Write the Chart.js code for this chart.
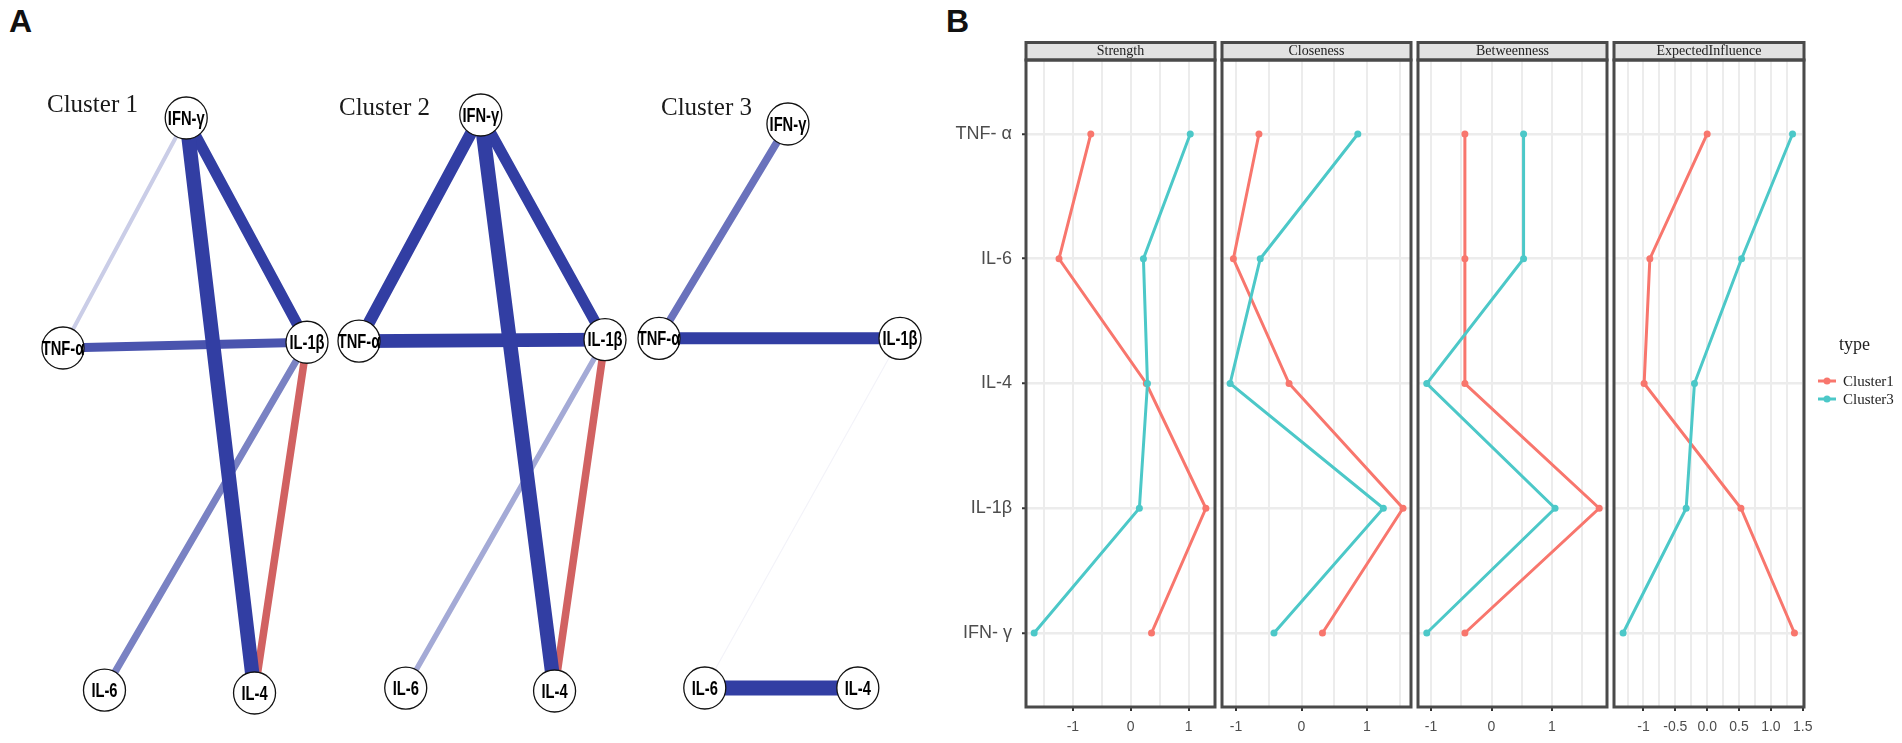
<!DOCTYPE html>
<html>
<head>
<meta charset="utf-8">
<script src="https://cdn.jsdelivr.net/npm/chart.js@4.4.1/dist/chart.umd.min.js"></script>
<style>
  html, body { margin: 0; padding: 0; background: #fff; }
  body { width: 1902px; height: 743px; position: relative; overflow: hidden; }
  canvas { position: absolute; }
  .tag { position: absolute; font: bold 32px "Liberation Sans", Arial, sans-serif; line-height: 32px; color: #111; }
</style>
</head>
<body>
<div class="tag" style="left:9px;top:5px">A</div>
<div class="tag" style="left:946px;top:5px">B</div>
<canvas id="net1"></canvas>
<canvas id="net2"></canvas>
<canvas id="net3"></canvas>
<canvas id="f0"></canvas>
<canvas id="f1"></canvas>
<canvas id="f2"></canvas>
<canvas id="f3"></canvas>
<script>
// ---------- A: networks ----------
const nodeNames = ['IFN-γ', 'TNF-α', 'IL-1β', 'IL-6', 'IL-4'];
// layout coords per cluster, [-1, 1] like qgraph
const cluster1Layout = [[0.01, 1], [-1, 0.20], [1, 0.22], [-0.66, -0.99], [0.57, -1]];
const cluster2Layout = [[-0.01, 1], [-1, 0.215], [1, 0.22], [-0.62, -0.99], [0.59, -1]];
const cluster3Layout = [[0.07, 1], [-1, 0.24], [1, 0.24], [-0.62, -1], [0.65, -1]];
// edges: [from, to, weight]
const cluster1Edges = [[0, 1, 0.20], [0, 4, 0.72], [0, 2, 0.55], [1, 2, 0.44], [2, 3, 0.35], [2, 4, -0.38]];
const cluster2Edges = [[0, 1, 0.60], [0, 4, 0.72], [0, 2, 0.55], [1, 2, 0.68], [2, 3, 0.27], [2, 4, -0.38]];
const cluster3Edges = [[0, 1, 0.38], [1, 2, 0.60], [2, 3, 0.06], [3, 4, 0.75]];

// ---------- B: centrality ----------
const centralityNodes = ['TNF- α', 'IL-6', 'IL-4', 'IL-1β', 'IFN- γ'];
const seriesNames = ['Cluster1', 'Cluster3'];
const strength1 = [-0.69, -1.24, 0.27, 1.30, 0.36];
const strength3 = [1.03, 0.22, 0.29, 0.15, -1.67];
const closeness1 = [-0.65, -1.04, -0.19, 1.55, 0.32];
const closeness3 = [0.86, -0.63, -1.09, 1.25, -0.42];
const betweenness1 = [-0.44, -0.44, -0.44, 1.78, -0.44];
const betweenness3 = [0.53, 0.53, -1.07, 1.05, -1.07];
const influence1 = [0.00, -0.90, -0.99, 0.53, 1.37];
const influence3 = [1.34, 0.54, -0.20, -0.33, -1.32];
const unitTicks = [-1, 0, 1];
const unitTickLabels = ['-1', '0', '1'];
const influenceTicks = [-1, -0.5, 0, 0.5, 1, 1.5];
const influenceTickLabels = ['-1', '-0.5', '0.0', '0.5', '1.0', '1.5'];

const RED = '#F8766D';
const TEAL = '#4CC8C8';

function edgeStyle(w) {
    const a = Math.max(0.06, Math.min(1, (Math.abs(w) - 0.1) * 2.6));
    const base = w > 0 ? [50, 62, 163] : [192, 40, 40];
    const c = base.map(v => Math.round(255 - (255 - v) * a));
    return { color: `rgb(${c.join(',')})`, width: Math.max(1, Math.abs(w) * 20) };
}

const netLabels = {
    id: 'netLabels',
    afterDatasetsDraw(chart, args, opts) {
        const ctx = chart.ctx;
        const meta = chart.getDatasetMeta(chart.data.datasets.length - 1);
        ctx.save();
        ctx.fillStyle = '#000';
        ctx.textAlign = 'center';
        ctx.textBaseline = 'middle';
        ctx.font = 'bold 21px "Liberation Sans", Arial, sans-serif';
        meta.data.forEach((el, i) => {
            ctx.save();
            ctx.translate(el.x, el.y + 1);
            ctx.scale(0.7, 1);
            ctx.fillText(opts.names[i], 0, 0);
            ctx.restore();
        });
        const a = chart.chartArea;
        ctx.font = '25px "Liberation Serif", "Times New Roman", serif';
        ctx.textAlign = 'left';
        ctx.textBaseline = 'alphabetic';
        ctx.fillStyle = '#1a1a1a';
        ctx.fillText(opts.title, a.left + opts.titleDx, a.top + opts.titleDy);
        ctx.restore();
    }
};

function drawNetwork(id, box, layout, edges, title) {
    const cv = document.getElementById(id);
    cv.width = box.x1 - box.x0;
    cv.height = 743;
    cv.style.left = box.x0 + 'px';
    cv.style.top = '0px';
    const pts = layout.map(p => ({ x: p[0], y: p[1] }));
    // weaker edges underneath
    const sorted = edges.slice().sort((a, b) => Math.abs(a[2]) - Math.abs(b[2]));
    const datasets = sorted.map((e, i) => {
        const s = edgeStyle(e[2]);
        return {
            data: [pts[e[0]], pts[e[1]]], showLine: true,
            borderColor: s.color, borderWidth: s.width, borderCapStyle: 'round',
            pointRadius: 0, clip: false, order: sorted.length + 1 - i
        };
    });
    datasets.push({
        data: pts, pointRadius: 21, pointBackgroundColor: '#fff',
        pointBorderColor: '#111', pointBorderWidth: 1.3, order: 0, clip: false
    });
    new Chart(cv, {
        type: 'scatter',
        data: { datasets },
        options: {
            responsive: false, animation: false, devicePixelRatio: 1, events: [],
            layout: { padding: { left: box.left - box.x0, right: box.x1 - box.right, top: box.top, bottom: 743 - box.bottom } },
            scales: {
                x: { type: 'linear', min: -1, max: 1, display: false },
                y: { type: 'linear', min: -1, max: 1, display: false }
            },
            plugins: {
                legend: { display: false }, tooltip: { enabled: false },
                netLabels: { names: nodeNames, title, titleDx: box.tdx, titleDy: box.tdy }
            }
        },
        plugins: [netLabels]
    });
}

drawNetwork('net1', { x0: 0, x1: 333, left: 63, right: 307, top: 118, bottom: 693, tdx: -16, tdy: -6 }, cluster1Layout, cluster1Edges, 'Cluster 1');
drawNetwork('net2', { x0: 333, x1: 632, left: 359, right: 605, top: 115, bottom: 691, tdx: -20, tdy: 0 }, cluster2Layout, cluster2Edges, 'Cluster 2');
drawNetwork('net3', { x0: 632, x1: 930, left: 659, right: 900, top: 124, bottom: 688, tdx: 2, tdy: -9 }, cluster3Layout, cluster3Edges, 'Cluster 3');

// ---------- facets ----------
const STRIP = 17.5;
const facetFrame = {
    id: 'facetFrame',
    afterDraw(chart, args, opts) {
        const { ctx, chartArea: a } = chart;
        ctx.save();
        ctx.lineWidth = 3;
        ctx.strokeStyle = '#4a4a4a';
        ctx.fillStyle = '#e3e3e3';
        ctx.fillRect(a.left, a.top - STRIP, a.right - a.left, STRIP);
        ctx.strokeRect(a.left, a.top - STRIP, a.right - a.left, STRIP);
        ctx.strokeRect(a.left, a.top, a.right - a.left, a.bottom - a.top);
        ctx.fillStyle = '#222';
        ctx.font = '14px "Liberation Serif", "Times New Roman", serif';
        ctx.textAlign = 'center';
        ctx.textBaseline = 'middle';
        ctx.fillText(opts.title, (a.left + a.right) / 2, a.top - STRIP / 2 + 0.5);
        if (opts.legend) {
            ctx.textAlign = 'left';
            ctx.textBaseline = 'alphabetic';
            ctx.font = '18px "Liberation Serif", "Times New Roman", serif';
            ctx.fillText('type', a.right + 35, 350 - 30);
            ctx.font = '15px "Liberation Serif", "Times New Roman", serif';
            chart.data.datasets.forEach((ds, i) => {
                const y = 381 - 30 + i * 18;
                ctx.strokeStyle = ds.borderColor;
                ctx.lineWidth = 3;
                ctx.beginPath();
                ctx.moveTo(a.right + 14, y);
                ctx.lineTo(a.right + 32, y);
                ctx.stroke();
                ctx.fillStyle = ds.borderColor;
                ctx.beginPath();
                ctx.arc(a.right + 23, y, 3.5, 0, Math.PI * 2);
                ctx.fill();
                ctx.fillStyle = '#222';
                ctx.fillText(ds.label, a.right + 39, y + 5);
            });
        }
        ctx.restore();
    }
};

const facets = [
    { title: 'Strength', s1: strength1, s3: strength3, min: -1.811, max: 1.458, ticks: unitTicks, labels: unitTickLabels, left: 1026, right: 1215 },
    { title: 'Closeness', s1: closeness1, s3: closeness3, min: -1.214, max: 1.672, ticks: unitTicks, labels: unitTickLabels, left: 1222, right: 1411 },
    { title: 'Betweenness', s1: betweenness1, s3: betweenness3, min: -1.215, max: 1.909, ticks: unitTicks, labels: unitTickLabels, left: 1418, right: 1607 },
    { title: 'ExpectedInfluence', s1: influence1, s3: influence3, min: -1.463, max: 1.52, ticks: influenceTicks, labels: influenceTickLabels, left: 1614, right: 1804 }
];

facets.forEach((f, k) => {
    const first = k === 0, last = k === facets.length - 1;
    const yAxisW = first ? 96 : 0;
    const x0 = first ? f.left - yAxisW : f.left - 4;
    const x1 = last ? 1902 : f.right + 4;
    const cv = document.getElementById('f' + k);
    cv.width = x1 - x0;
    cv.height = 713;
    cv.style.left = x0 + 'px';
    cv.style.top = '30px';

    // major ticks plus minor gridlines halfway between
    const step = f.ticks[1] - f.ticks[0];
    const grid = [];
    for (let v = f.ticks[0] - step; v <= f.ticks[f.ticks.length - 1] + step + 1e-9; v += step / 2) {
        const r = Math.round(v * 1000) / 1000;
        if (r > f.min && r < f.max) grid.push(r);
    }
    const labelOf = v => {
        const i = f.ticks.findIndex(t => Math.abs(t - v) < 1e-6);
        return i < 0 ? '' : f.labels[i];
    };
    const series = [f.s1, f.s3];
    const colors = [RED, TEAL];

    new Chart(cv, {
        type: 'scatter',
        data: {
            datasets: series.map((s, i) => ({
                label: seriesNames[i],
                data: s.map((x, j) => ({ x, y: j })),
                showLine: true,
                borderColor: colors[i], backgroundColor: colors[i],
                borderWidth: 3, pointRadius: 3.5, pointBorderWidth: 0,
                tension: 0, clip: false, order: 2 - i
            }))
        },
        options: {
            responsive: false, animation: false, devicePixelRatio: 1, events: [],
            layout: { padding: { left: first ? 0 : 4, right: x1 - f.right, top: 30, bottom: 0 } },
            scales: {
                x: {
                    type: 'linear', min: f.min, max: f.max,
                    afterBuildTicks: s => { s.ticks = grid.map(v => ({ value: v })); },
                    afterFit: s => { s.height = 36; },
                    border: { display: false },
                    grid: {
                        color: '#ececec', lineWidth: 2, tickLength: 4, tickWidth: 2,
                        tickColor: c => labelOf(c.tick.value) ? '#333' : 'rgba(0,0,0,0)'
                    },
                    ticks: {
                        autoSkip: false, maxRotation: 0, padding: 8,
                        color: '#4d4d4d', font: { family: '"Liberation Sans", Arial, sans-serif', size: 14 },
                        callback: v => labelOf(v)
                    }
                },
                y: {
                    type: 'linear', min: -0.593, max: 4.593, reverse: true,
                    afterBuildTicks: s => { s.ticks = centralityNodes.map((_, i) => ({ value: i })); },
                    afterFit: s => { s.width = yAxisW; },
                    border: { display: false },
                    grid: { color: '#ececec', lineWidth: 2.5, drawTicks: first, tickLength: 4, tickWidth: 2, tickColor: '#333' },
                    ticks: {
                        display: first, autoSkip: false, padding: 10,
                        color: '#4d4d4d', font: { family: '"Liberation Sans", Arial, sans-serif', size: 18 },
                        callback: v => centralityNodes[v]
                    }
                }
            },
            plugins: {
                legend: { display: false }, tooltip: { enabled: false },
                facetFrame: { title: f.title, legend: last }
            }
        },
        plugins: [facetFrame]
    });
});
</script>
</body>
</html>
